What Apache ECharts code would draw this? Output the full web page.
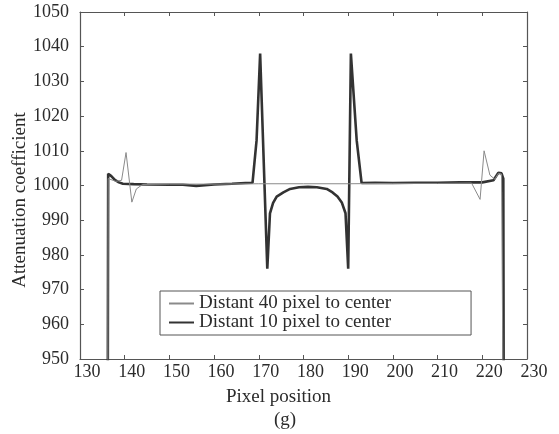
<!DOCTYPE html>
<html>
<head>
<meta charset="UTF-8">
<title>Attenuation coefficient</title>
<script type="text/javascript" src="https://cdn.jsdelivr.net/npm/echarts@6/dist/echarts.min.js"></script>
<style type="text/css">
	body{ margin:0; background:#fff; }
	#main{ width:559px; height:434px; }
</style>
</head>
<body>
<div id="main"></div>
<script type="text/javascript">
	// data
	var xTicks = [130, 140, 150, 160, 170, 180, 190, 200, 210, 220, 230];
	var yTicks = [950, 960, 970, 980, 990, 1000, 1010, 1020, 1030, 1040, 1050];

	// distant 10 pixel to center (thick line)
	var nearX = [136.2, 136.3, 137, 137.8, 138.7, 139.6, 142, 145, 150, 153, 156, 160, 164, 167, 168.6, 169.5, 170.3, 171.9, 172.5, 173.2, 174, 175.5, 177, 179, 181, 183, 185.2, 186.5, 187.6, 188.6, 189.4, 190, 190.6, 191.9, 193, 196, 200, 205, 210, 215, 220, 222.5, 223.6, 224.3, 224.7, 224.8];
	var nearY = [930, 1003.4, 1002.7, 1001.6, 1000.9, 1000.5, 1000.4, 1000.3, 1000.2, 1000.2, 999.9, 1000.3, 1000.5, 1000.7, 1000.8, 1013, 1038, 976, 992, 995, 996.8, 998, 999, 999.5, 999.6, 999.5, 999, 998, 996.8, 995, 992, 976, 1038, 1013, 1000.7, 1000.8, 1000.7, 1000.8, 1000.8, 1000.9, 1000.9, 1001.5, 1003.7, 1003.5, 1002, 930];

	// distant 40 pixel to center (thin line)
	var farX = [136.2, 136.3, 138, 139.3, 140.3, 141.6, 142.6, 144, 150, 160, 170, 180, 190, 200, 210, 217.6, 219.5, 220.4, 221.7, 222.8, 223.6, 224.3, 224.7];
	var farY = [930, 1002, 1001.2, 1001.5, 1009.5, 995.2, 999, 1000.3, 1000.4, 1000.4, 1000.5, 1000.5, 1000.5, 1000.6, 1000.6, 1000.7, 996, 1010, 1003, 1001.8, 1003.5, 1003.3, 930];

	var names = ['Distant 40 pixel to center', 'Distant 10 pixel to center'];

	function pairs(xs, ys){
		var out = [];
		for(var i = 0; i < xs.length; i++){
			out.push([xs[i], ys[i]]);
		}
		return out;
	}

	var font = 'Liberation Serif';
	var ink = '#2b2b2b';
	var axisColor = '#555';

	function plain(v){ return String(v); }

	function xAx(pos, showLabel){
		return {
			type: 'value', position: pos,
			min: xTicks[0], max: xTicks[xTicks.length - 1], interval: 10,
			axisLine: { show: true, onZero: false, lineStyle: { color: axisColor, width: 1.2 } },
			axisTick: { show: true, inside: true, length: 4, lineStyle: { color: axisColor } },
			axisLabel: { show: showLabel, formatter: plain, color: ink, fontFamily: font, fontSize: 18, margin: 4, padding: [0, 0, 0, 14] },
			splitLine: { show: false }
		};
	}
	function yAx(pos, showLabel){
		return {
			type: 'value', position: pos,
			min: yTicks[0], max: yTicks[yTicks.length - 1], interval: 10,
			axisLine: { show: true, onZero: false, lineStyle: { color: axisColor, width: 1.2 } },
			axisTick: { show: true, inside: true, length: 4, lineStyle: { color: axisColor } },
			axisLabel: { show: showLabel, formatter: plain, color: ink, fontFamily: font, fontSize: 18, margin: 11 },
			splitLine: { show: false }
		};
	}

	var myChart = echarts.init(document.getElementById('main'));

	var option = {
		backgroundColor: '#fff',
		animation: false,
		grid: { left: 80, right: 32, top: 12, bottom: 75 },
		xAxis: [xAx('bottom', true), xAx('top', false)],
		yAxis: [yAx('left', true), yAx('right', false)],
		legend: {
			orient: 'vertical',
			left: 160, top: 291,
			padding: [3, 80, 3, 8],
			itemGap: 0,
			itemWidth: 25,
			itemHeight: 14,
			borderColor: '#555',
			borderWidth: 1,
			borderRadius: 0,
			itemStyle: { color: 'transparent', borderWidth: 0, opacity: 0 },
			textStyle: { color: ink, fontFamily: font, fontSize: 19, lineHeight: 15 },
			data: names
		},
		graphic: [
			{ type: 'text', left: 226, top: 388, style: { text: 'Pixel position', font: '19px "Liberation Serif"', fill: ink } },
			{ type: 'text', left: 274, top: 411, style: { text: '(g)', font: '19px "Liberation Serif"', fill: ink } },
			{ type: 'text', x: 20, y: 200, rotation: Math.PI / 2,
			  style: { text: 'Attenuation coefficient', font: '19px "Liberation Serif"', fill: ink, align: 'center', verticalAlign: 'middle' } }
		],
		series: [
			{
				name: names[0], type: 'line', symbol: 'none', clip: true,
				lineStyle: { color: '#8a8a8a', width: 1 },
				itemStyle: { color: '#8a8a8a' },
				data: pairs(farX, farY), z: 3
			},
			{
				name: names[1], type: 'line', symbol: 'none', clip: true,
				lineStyle: { color: '#333', width: 2.6 },
				itemStyle: { color: '#333' },
				data: pairs(nearX, nearY), z: 2
			}
		]
	};

	myChart.setOption(option);
</script>
</body>
</html>
